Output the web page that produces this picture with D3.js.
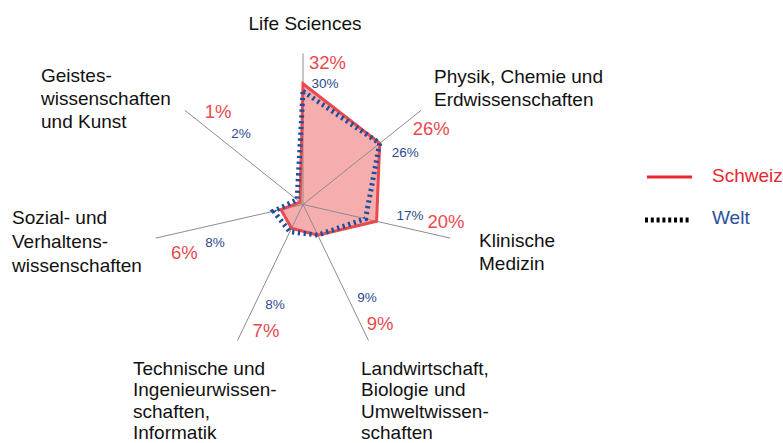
<!DOCTYPE html>
<html>
<head>
    <meta charset="utf-8">
    <title>Radar Schweiz / Welt</title>
    <script src="https://d3js.org/d3.v7.min.js"></script>
    <style>
        html, body {
            margin: 0;
            background: #fff;
            overflow: hidden;
        }
        svg text {
            font-family: "Liberation Sans", Arial, sans-serif;
        }
    </style>
</head>
<body>
    <div id="chart"></div>

    <script>
        // Data (share of publications, %)
        const categories = [
            "Life Sciences",
            "Physik, Chemie und Erdwissenschaften",
            "Klinische Medizin",
            "Landwirtschaft, Biologie und Umweltwissenschaften",
            "Technische und Ingenieurwissenschaften, Informatik",
            "Sozial- und Verhaltenswissenschaften",
            "Geisteswissenschaften und Kunst"
        ];
        const schweiz = [32, 26, 20, 9, 7, 6, 1];
        const welt = [30, 26, 17, 9, 8, 8, 2];
        const seriesNames = ["Schweiz", "Welt"];

        // Label text as printed (with line breaks)
        const categoryLines = [
            ["Life Sciences"],
            ["Physik, Chemie und", "Erdwissenschaften"],
            ["Klinische", "Medizin"],
            ["Landwirtschaft,", "Biologie und", "Umweltwissen-", "schaften"],
            ["Technische und", "Ingenieurwissen-", "schaften,", "Informatik"],
            ["Sozial- und", "Verhaltens-", "wissenschaften"],
            ["Geistes-", "wissenschaften", "und Kunst"]
        ];

        // Layout
        const W = 783, H = 443;
        const cx = 303, cy = 204.5;
        const outer = 151;
        const colors = {
            red: "#e84a4f", fill: "#f5adad", blue: "#1c4f9c",
            blueText: "#2d4b8c", axis: "#8c8c8c", legendRed: "#e8262e"
        };
        // category label blocks: x, first baseline, anchor, line height
        const catPos = [
            [305, 30, "middle", 22], [434, 83, "start", 23], [479, 247, "start", 22.5],
            [361, 375, "start", 21.4], [133, 375, "start", 21.4], [12, 224, "start", 24],
            [41, 82, "start", 23]
        ];
        // value labels: [angle offset (deg), radius (px)] relative to each axis
        const redLab = [[9.8, 144], [7.9, 149], [-6.1, 144], [-7.2, 142], [-9.3, 131], [-9.1, 128], [9.0, 126]];
        const blueLab = [[10.3, 123.5], [11.4, 115], [-7.3, 107.5], [-9, 112.5], [-10, 103.4], [-10.2, 95.7], [10.5, 94.6]];

        const svg = d3.select("#chart")
            .append("svg")
            .attr("width", W)
            .attr("height", H);

        const g = svg.append("g").attr("transform", `translate(${cx},${cy})`);

        const r = d3.scaleLinear().domain([0, 40]).range([0, outer]);
        const angle = d3.scalePoint()
            .domain(categories)
            .range([0, 2 * Math.PI * (1 - 1 / categories.length)]);

        const pt = (a, rad) => [Math.sin(a) * rad, -Math.cos(a) * rad];

        const line = d3.lineRadial()
            .angle((d, i) => angle(categories[i]))
            .radius(d => r(d))
            .curve(d3.curveLinearClosed);

        // Schweiz filled area
        g.append("path")
            .datum(schweiz)
            .attr("d", line)
            .attr("fill", colors.fill)
            .attr("stroke", "none");

        // Axes
        g.selectAll(".axis")
            .data(categories)
            .join("line")
            .attr("class", "axis")
            .attr("x1", 0).attr("y1", 0)
            .attr("x2", d => pt(angle(d), outer)[0])
            .attr("y2", d => pt(angle(d), outer)[1])
            .attr("stroke", colors.axis)
            .attr("stroke-width", 1);

        // Schweiz outline
        g.append("path")
            .datum(schweiz)
            .attr("d", line)
            .attr("fill", "none")
            .attr("stroke", colors.red)
            .attr("stroke-width", 3)
            .attr("stroke-linejoin", "miter");

        // Welt dotted outline
        g.append("path")
            .datum(welt)
            .attr("d", line)
            .attr("fill", "none")
            .attr("stroke", colors.blue)
            .attr("stroke-width", 5)
            .attr("stroke-dasharray", "2.3,3.5");

        // Value labels
        const deg = Math.PI / 180;
        g.selectAll(".lab-ch")
            .data(schweiz)
            .join("text")
            .attr("class", "lab-ch")
            .attr("x", (d, i) => pt(angle(categories[i]) + redLab[i][0] * deg, redLab[i][1])[0])
            .attr("y", (d, i) => pt(angle(categories[i]) + redLab[i][0] * deg, redLab[i][1])[1])
            .attr("dy", "0.36em")
            .attr("text-anchor", "middle")
            .attr("font-size", 18.5)
            .attr("fill", colors.red)
            .text(d => d + "%");

        g.selectAll(".lab-w")
            .data(welt)
            .join("text")
            .attr("class", "lab-w")
            .attr("x", (d, i) => pt(angle(categories[i]) + blueLab[i][0] * deg, blueLab[i][1])[0])
            .attr("y", (d, i) => pt(angle(categories[i]) + blueLab[i][0] * deg, blueLab[i][1])[1])
            .attr("dy", "0.36em")
            .attr("text-anchor", "middle")
            .attr("font-size", 13.5)
            .attr("fill", colors.blueText)
            .text(d => d + "%");

        // Category labels
        const cat = svg.selectAll(".cat")
            .data(categoryLines)
            .join("text")
            .attr("class", "cat")
            .attr("x", (d, i) => catPos[i][0])
            .attr("y", (d, i) => catPos[i][1])
            .attr("text-anchor", (d, i) => catPos[i][2])
            .attr("font-size", 19)
            .attr("fill", "#111");
        cat.each(function(lines, i) {
            d3.select(this).selectAll("tspan")
                .data(lines)
                .join("tspan")
                .attr("x", catPos[i][0])
                .attr("dy", (d, j) => j === 0 ? 0 : catPos[i][3])
                .text(d => d);
        });

        // Legend
        const legend = svg.append("g").attr("transform", "translate(647,0)");
        legend.append("line")
            .attr("x1", 0).attr("x2", 45)
            .attr("y1", 177).attr("y2", 177)
            .attr("stroke", colors.legendRed)
            .attr("stroke-width", 3);
        legend.append("line")
            .attr("x1", -2).attr("x2", 44)
            .attr("y1", 220).attr("y2", 220)
            .attr("stroke", "#000")
            .attr("stroke-width", 5)
            .attr("stroke-dasharray", "3,2.8");
        legend.append("text")
            .attr("x", 65).attr("y", 182)
            .attr("font-size", 19)
            .attr("fill", colors.legendRed)
            .text(seriesNames[0]);
        legend.append("text")
            .attr("x", 65).attr("y", 224)
            .attr("font-size", 19)
            .attr("fill", "#2a4fa0")
            .text(seriesNames[1]);
    </script>
</body>
</html>
